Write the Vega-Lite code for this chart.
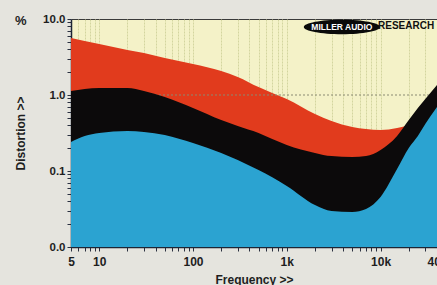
{
  "$schema": "https://vega.github.io/schema/vega-lite/v6.json",
  "width": 366,
  "height": 228,
  "autosize": "none",
  "padding": {"left": 71, "top": 19, "right": 0, "bottom": 38},
  "background": "#e5e4de",
  "config": {
    "view": {"fill": "#f4f2c8", "stroke": "#3a3a3a", "strokeWidth": 1},
    "font": "Liberation Sans"
  },
  "title": {
    "text": "%",
    "anchor": "start",
    "frame": "group",
    "orient": "top",
    "dx": -56,
    "dy": 19,
    "fontSize": 13,
    "fontWeight": "bold",
    "color": "#1e1e1e"
  },
  "datasets": {
    "bands": [
      {"f": 5, "red": 5.62, "black": 1.13, "blue": 0.241},
      {"f": 7, "red": 5.14, "black": 1.2, "blue": 0.289},
      {"f": 10, "red": 4.69, "black": 1.24, "blue": 0.316},
      {"f": 20, "red": 3.91, "black": 1.24, "blue": 0.336},
      {"f": 30, "red": 3.57, "black": 1.13, "blue": 0.326},
      {"f": 50, "red": 3.07, "black": 0.94, "blue": 0.298},
      {"f": 100, "red": 2.56, "black": 0.675, "blue": 0.233},
      {"f": 200, "red": 2.07, "black": 0.469, "blue": 0.173},
      {"f": 300, "red": 1.73, "black": 0.391, "blue": 0.14},
      {"f": 500, "red": 1.27, "black": 0.316, "blue": 0.103},
      {"f": 700, "red": 1.06, "black": 0.264, "blue": 0.083},
      {"f": 1000, "red": 0.886, "black": 0.22, "blue": 0.0635},
      {"f": 2000, "red": 0.562, "black": 0.173, "blue": 0.0357},
      {"f": 3000, "red": 0.455, "black": 0.157, "blue": 0.0298},
      {"f": 5000, "red": 0.379, "black": 0.153, "blue": 0.0289},
      {"f": 7000, "red": 0.357, "black": 0.157, "blue": 0.0316},
      {"f": 10000, "red": 0.346, "black": 0.189, "blue": 0.0455},
      {"f": 15000, "red": 0.368, "black": 0.289, "blue": 0.106},
      {"f": 20000, "red": 0.403, "black": 0.469, "blue": 0.201},
      {"f": 25000, "red": 0.45, "black": 0.675, "blue": 0.289},
      {"f": 30000, "red": 0.498, "black": 0.886, "blue": 0.415},
      {"f": 40000, "red": 0.635, "black": 1.355, "blue": 0.695}
    ],
    "grid": [{"v": 0.1}, {"v": 1}],
    "logo": [{"f": 3870, "v": 7.85, "t": "MILLER AUDIO"}],
    "logo2": [{"f": 9400, "v": 8.0, "t": "RESEARCH"}]
  },
  "layer": [
    {
      "data": {"name": "bands"},
      "mark": {"type": "area", "interpolate": "monotone", "color": "#e13b1d"},
      "encoding": {
        "x": {
          "field": "f", "type": "quantitative",
          "scale": {"type": "log", "domain": [5, 40000], "nice": false},
          "axis": {
            "title": "Frequency >>",
            "values": [5, 6, 7, 8, 9, 10, 20, 30, 40, 50, 60, 70, 80, 90, 100, 200, 300, 400, 500, 600, 700, 800, 900, 1000, 2000, 3000, 4000, 5000, 6000, 7000, 8000, 9000, 10000, 20000, 30000, 40000],
            "labelExpr": "datum.value == 5 ? '5' : datum.value == 10 ? '10' : datum.value == 100 ? '100' : datum.value == 1000 ? '1k' : datum.value == 10000 ? '10k' : datum.value == 40000 ? '40k' : ''",
            "labelFlush": false,
            "labelOverlap": false,
            "labelFont": "Liberation Sans",
            "labelFontWeight": "bold",
            "labelFontSize": 12,
            "labelColor": "#1e1e1e",
            "labelPadding": 5,
            "tickSize": 4,
            "tickColor": "#2a3040",
            "domainColor": "#1c2636",
            "domainWidth": 1.5,
            "grid": true,
            "gridColor": "#cfd29a",
            "gridDash": [2, 1],
            "gridOpacity": 0.9,
            "titleFont": "Liberation Sans",
            "titleFontWeight": "bold",
            "titleFontSize": 12,
            "titleColor": "#1e1e1e",
            "titlePadding": 7
          }
        },
        "y": {
          "field": "red", "type": "quantitative",
          "scale": {"type": "log", "domain": [0.01, 10], "nice": false},
          "axis": {
            "title": "Distortion >>",
            "values": [0.01, 0.02, 0.03, 0.04, 0.05, 0.06, 0.07, 0.08, 0.09, 0.1, 0.2, 0.3, 0.4, 0.5, 0.6, 0.7, 0.8, 0.9, 1, 2, 3, 4, 5, 6, 7, 8, 9, 10],
            "labelExpr": "datum.value == 10 ? '10.0' : datum.value == 1 ? '1.0' : datum.value == 0.1 ? '0.1' : datum.value == 0.01 ? '0.0' : ''",
            "labelFlush": false,
            "labelOverlap": false,
            "labelFont": "Liberation Sans",
            "labelFontWeight": "bold",
            "labelFontSize": 11.5,
            "labelColor": "#1e1e1e",
            "labelPadding": 2,
            "tickSize": 4,
            "tickColor": "#2a3040",
            "domainColor": "#1c2636",
            "domainWidth": 1.5,
            "grid": false,
            "titleFont": "Liberation Sans",
            "titleFontWeight": "bold",
            "titleFontSize": 12,
            "titleColor": "#1e1e1e",
            "titlePadding": 15
          }
        },
        "y2": {"datum": 0.01}
      }
    },
    {
      "data": {"name": "grid"},
      "mark": {"type": "rule", "color": "#8a8a72", "strokeDash": [2, 2], "strokeWidth": 1},
      "encoding": {
        "y": {"field": "v", "type": "quantitative", "scale": {"type": "log", "domain": [0.01, 10], "nice": false}}
      }
    },
    {
      "data": {"name": "bands"},
      "mark": {"type": "area", "interpolate": "monotone", "color": "#0c0a0b"},
      "encoding": {
        "x": {"field": "f", "type": "quantitative", "scale": {"type": "log", "domain": [5, 40000], "nice": false}},
        "y": {"field": "black", "type": "quantitative", "scale": {"type": "log", "domain": [0.01, 10], "nice": false}},
        "y2": {"datum": 0.01}
      }
    },
    {
      "data": {"name": "bands"},
      "mark": {"type": "area", "interpolate": "monotone", "color": "#2ba3d1"},
      "encoding": {
        "x": {"field": "f", "type": "quantitative", "scale": {"type": "log", "domain": [5, 40000], "nice": false}},
        "y": {"field": "blue", "type": "quantitative", "scale": {"type": "log", "domain": [0.01, 10], "nice": false}},
        "y2": {"datum": 0.01}
      }
    },
    {
      "data": {"name": "logo"},
      "mark": {"type": "point", "filled": true, "color": "#0a0a0a", "opacity": 1, "size": 5800, "shape": "M -1 0 C -1 -0.105 -0.552 -0.19 0 -0.19 C 0.552 -0.19 1 -0.105 1 0 C 1 0.105 0.552 0.19 0 0.19 C -0.552 0.19 -1 0.105 -1 0 Z"},
      "encoding": {
        "x": {"field": "f", "type": "quantitative", "scale": {"type": "log", "domain": [5, 40000], "nice": false}},
        "y": {"field": "v", "type": "quantitative", "scale": {"type": "log", "domain": [0.01, 10], "nice": false}}
      }
    },
    {
      "data": {"name": "logo"},
      "mark": {"type": "text", "color": "#ffffff", "font": "Liberation Sans", "fontWeight": "bold", "fontSize": 8.5, "align": "center", "baseline": "middle"},
      "encoding": {
        "x": {"field": "f", "type": "quantitative", "scale": {"type": "log", "domain": [5, 40000], "nice": false}},
        "y": {"field": "v", "type": "quantitative", "scale": {"type": "log", "domain": [0.01, 10], "nice": false}},
        "text": {"field": "t"}
      }
    },
    {
      "data": {"name": "logo2"},
      "mark": {"type": "text", "color": "#111111", "font": "Liberation Sans", "fontWeight": "bold", "fontSize": 10, "align": "left", "baseline": "middle"},
      "encoding": {
        "x": {"field": "f", "type": "quantitative", "scale": {"type": "log", "domain": [5, 40000], "nice": false}},
        "y": {"field": "v", "type": "quantitative", "scale": {"type": "log", "domain": [0.01, 10], "nice": false}},
        "text": {"field": "t"}
      }
    }
  ]
}
